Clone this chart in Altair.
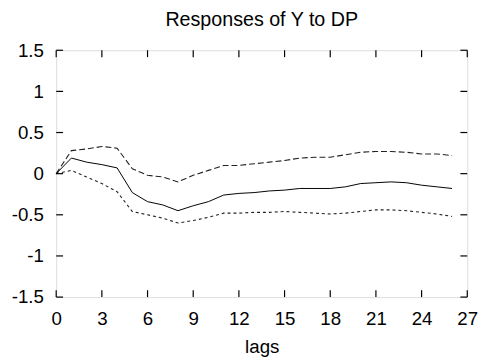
import altair as alt
import pandas as pd

lags = list(range(27))
response = [0, 0.19, 0.14, 0.11, 0.07, -0.23, -0.34, -0.38, -0.45, -0.39, -0.34, -0.26,
            -0.24, -0.23, -0.21, -0.20, -0.18, -0.18, -0.18, -0.16, -0.12, -0.11, -0.10,
            -0.11, -0.14, -0.16, -0.18]
upper = [0, 0.28, 0.30, 0.33, 0.31, 0.06, -0.02, -0.04, -0.10, -0.02, 0.04, 0.10,
         0.10, 0.12, 0.14, 0.16, 0.19, 0.20, 0.20, 0.23, 0.26, 0.27, 0.27, 0.26,
         0.24, 0.24, 0.22]
lower = [0, 0.04, -0.04, -0.12, -0.22, -0.46, -0.50, -0.54, -0.60, -0.57, -0.53, -0.48,
         -0.48, -0.47, -0.47, -0.46, -0.47, -0.48, -0.49, -0.48, -0.46, -0.44, -0.44,
         -0.45, -0.47, -0.49, -0.52]
x_ticks = [0, 3, 6, 9, 12, 15, 18, 21, 24, 27]
y_ticks = [-1.5, -1.0, -0.5, 0.0, 0.5, 1.0, 1.5]

W, H = 418, 251
TL = 7
FONT = "Liberation Sans"

df = pd.DataFrame({"lag": lags, "response": response, "upper": upper, "lower": lower})
xt = pd.DataFrame({"t": x_ticks})
yt = pd.DataFrame({"t": y_ticks})

xs = alt.Scale(domain=[0, 27], nice=False, zero=False)
ys = alt.Scale(domain=[-1.5, 1.5], nice=False, zero=False)

xaxis = alt.Axis(values=x_ticks, title="lags", grid=False, ticks=False, tickSize=0,
                 domain=False, labelFont=FONT, labelFontSize=19, labelColor="black",
                 labelPadding=13, titleFont=FONT, titleFontSize=19, titleFontWeight="normal",
                 titleColor="black", titlePadding=9, labelFlush=False)
yaxis = alt.Axis(values=y_ticks, title=None, grid=False, ticks=False, tickSize=0,
                 domain=False, labelFont=FONT, labelFontSize=19, labelColor="black",
                 labelPadding=13, labelExpr="toString(datum.value)")

base = alt.Chart(df)
mid = base.mark_line(color="black", strokeWidth=1).encode(
    x=alt.X("lag:Q", scale=xs, axis=xaxis),
    y=alt.Y("response:Q", scale=ys, axis=yaxis),
)
up = base.mark_line(color="#222222", strokeWidth=1.1, strokeDash=[6, 3]).encode(
    x=alt.X("lag:Q", scale=xs), y=alt.Y("upper:Q", scale=ys))
lo = base.mark_line(color="#222222", strokeWidth=1.1, strokeDash=[3, 3]).encode(
    x=alt.X("lag:Q", scale=xs), y=alt.Y("lower:Q", scale=ys))

tick_style = dict(color="black", strokeWidth=1.2)
xt_top = alt.Chart(xt).mark_rule(**tick_style).encode(
    x=alt.X("t:Q", scale=xs), y=alt.value(0), y2=alt.value(TL))
xt_bot = alt.Chart(xt).mark_rule(**tick_style).encode(
    x=alt.X("t:Q", scale=xs), y=alt.value(H), y2=alt.value(H - TL))
yt_left = alt.Chart(yt).mark_rule(**tick_style).encode(
    y=alt.Y("t:Q", scale=ys), x=alt.value(0), x2=alt.value(TL))
yt_right = alt.Chart(yt).mark_rule(**tick_style).encode(
    y=alt.Y("t:Q", scale=ys), x=alt.value(W), x2=alt.value(W - TL))

chart = alt.layer(lo, up, mid, xt_top, xt_bot, yt_left, yt_right).properties(
    width=W, height=H,
    title=alt.TitleParams("Responses of Y to DP", font=FONT, fontSize=20,
                          fontWeight="normal", color="black", anchor="middle",
                          baseline="alphabetic", offset=14, dy=18),
    autosize=alt.AutoSizeParams(type="none"),
    padding={"left": 49, "top": 40, "right": 16, "bottom": 60},
).configure_view(stroke="black", strokeWidth=1.5).configure(background="white")

chart.save("out.html", embed_options={"renderer": "svg", "actions": False})
